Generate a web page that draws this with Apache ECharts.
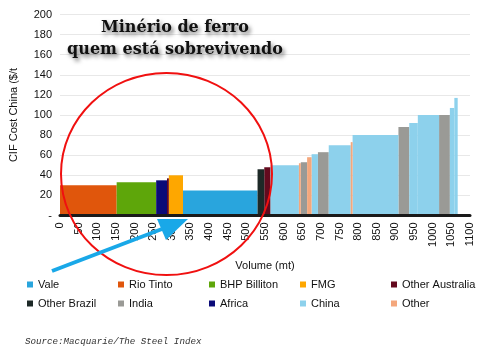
<!DOCTYPE html>
<html>
<head>
<meta charset="utf-8">
<title>Minério de ferro</title>
<script src="https://cdn.jsdelivr.net/npm/echarts@6.0.0/dist/echarts.min.js"></script>
<style>
  html, body { margin: 0; padding: 0; background: #fff; }
  #chart { width: 477px; height: 351px; }
</style>
</head>
<body>
<div id="chart"></div>
<script>
// producers shown in the legend (two rows of five)
const producers = ['Vale', 'Rio Tinto', 'BHP Billiton', 'FMG', 'Other Australia',
  'Other Brazil', 'India', 'Africa', 'China', 'Other']
const producerColors = ['#29a5dd', '#e0560c', '#5ea60a', '#fea700', '#640a1e',
  '#1d2927', '#9a9a96', '#0b0b78', '#8dd1ec', '#f4a77c']

// cost curve segments, left to right
const segProducer = ['Rio Tinto', 'BHP Billiton', 'Africa', 'Other Australia', 'FMG', 'Vale',
  'Other Brazil', 'Other Australia', 'China', 'Other', 'India', 'Other', 'China', 'India',
  'China', 'Other', 'China', 'India', 'China', 'China', 'India', 'China', 'China']
const segVolume = [152, 106, 29, 5, 38, 200, 18, 17, 76, 5, 17, 12, 17, 29, 59, 5, 123, 29, 23, 57, 29, 12, 9]
const segCost = [30, 33, 35, 37, 40, 25, 46, 48, 50, 52, 53, 58, 61, 63, 70, 73, 80, 88, 92, 100, 100, 107, 117]

const volumeTicks = { min: 0, max: 1100, step: 50 }
const costTicks = { min: 0, max: 200, step: 20 }

// build [start, end, cost] per producer
const byProducer = {}
producers.forEach(p => { byProducer[p] = [] })
let start = 0
segVolume.forEach((w, i) => {
  byProducer[segProducer[i]].push([start, start + w, segCost[i]])
  start += w
})

const chart = echarts.init(document.getElementById('chart'), null, { renderer: 'canvas' })

function renderBar(color) {
  return function(params, api) {
    const top = api.coord([api.value(0), api.value(2)])
    const bottom = api.coord([api.value(1), 0])
    return {
      type: 'rect',
      shape: { x: top[0], y: top[1], width: bottom[0] - top[0], height: bottom[1] - top[1] },
      style: { fill: color }
    }
  }
}

const series = producers.map((p, i) => ({
  name: p,
  type: 'custom',
  renderItem: renderBar(producerColors[i]),
  itemStyle: { color: producerColors[i] },
  encode: { x: [0, 1], y: 2 },
  data: byProducer[p],
  z: 2
}))

// one legend per item so the columns line up like the original
const legends = producers.map((p, i) => ({
  data: [p],
  left: 22 + (i % 5) * 91,
  top: i < 5 ? 274 : 293,
  itemWidth: 6,
  itemHeight: 6,
  icon: 'rect',
  selectedMode: false,
  textStyle: { fontFamily: 'Liberation Sans', fontSize: 11, color: '#111' }
}))

chart.setOption({
  animation: false,
  textStyle: { fontFamily: 'Liberation Sans' },
  grid: { left: 60, right: 7, top: 14.5, bottom: 135.5 },
  legend: legends,
  xAxis: {
    type: 'value',
    min: volumeTicks.min,
    max: volumeTicks.max,
    interval: volumeTicks.step,
    z: 5,
    name: 'Volume (mt)',
    nameLocation: 'middle',
    nameGap: 45,
    nameTextStyle: { fontSize: 11, color: '#111' },
    axisLine: { show: true, lineStyle: { color: '#1a1a1a', width: 3 } },
    axisTick: { show: false },
    splitLine: { show: false },
    axisLabel: { rotate: 90, margin: 7, fontSize: 11, color: '#111', formatter: v => String(v) }
  },
  yAxis: {
    type: 'value',
    min: costTicks.min,
    max: costTicks.max,
    interval: costTicks.step,
    name: 'CIF Cost China ($/t',
    nameLocation: 'middle',
    nameGap: 41,
    nameTextStyle: { fontSize: 11, color: '#111' },
    axisLine: { show: false },
    axisTick: { show: false },
    splitLine: { lineStyle: { color: '#e8e8e8', width: 1 } },
    axisLabel: {
      margin: 8, fontSize: 11, color: '#111',
      formatter: v => (v === 0 ? '-' : String(v))
    }
  },
  series: series,
  graphic: [
    {
      type: 'text', z: 10,
      style: {
        x: 175, y: 28, text: 'Minério de ferro', align: 'center', verticalAlign: 'middle',
        font: 'bold 16px "DejaVu Serif"', fill: '#111',
        textShadowColor: 'rgba(0,0,0,0.55)', textShadowBlur: 4, textShadowOffsetX: 2, textShadowOffsetY: 3
      }
    },
    {
      type: 'text', z: 10,
      style: {
        x: 175, y: 50, text: 'quem está sobrevivendo', align: 'center', verticalAlign: 'middle',
        font: 'bold 16px "DejaVu Serif"', fill: '#111',
        textShadowColor: 'rgba(0,0,0,0.55)', textShadowBlur: 4, textShadowOffsetX: 2, textShadowOffsetY: 3
      }
    },
    {
      type: 'ellipse', z: 20,
      shape: { cx: 166.5, cy: 174, rx: 105.5, ry: 101 },
      style: { fill: null, stroke: '#f01010', lineWidth: 2 }
    },
    {
      type: 'line', z: 21,
      shape: { x1: 52, y1: 271, x2: 162, y2: 229 },
      style: { stroke: '#19a8e8', lineWidth: 4 }
    },
    {
      type: 'polygon', z: 21,
      shape: { points: [[188, 219], [166, 240], [157, 219]] },
      style: { fill: '#19a8e8' }
    },
    {
      type: 'text', z: 10,
      style: {
        x: 25, y: 342, text: 'Source:Macquarie/The Steel Index', verticalAlign: 'middle',
        font: 'italic 9.2px "Liberation Mono"', fill: '#333'
      }
    }
  ]
})
</script>
</body>
</html>
